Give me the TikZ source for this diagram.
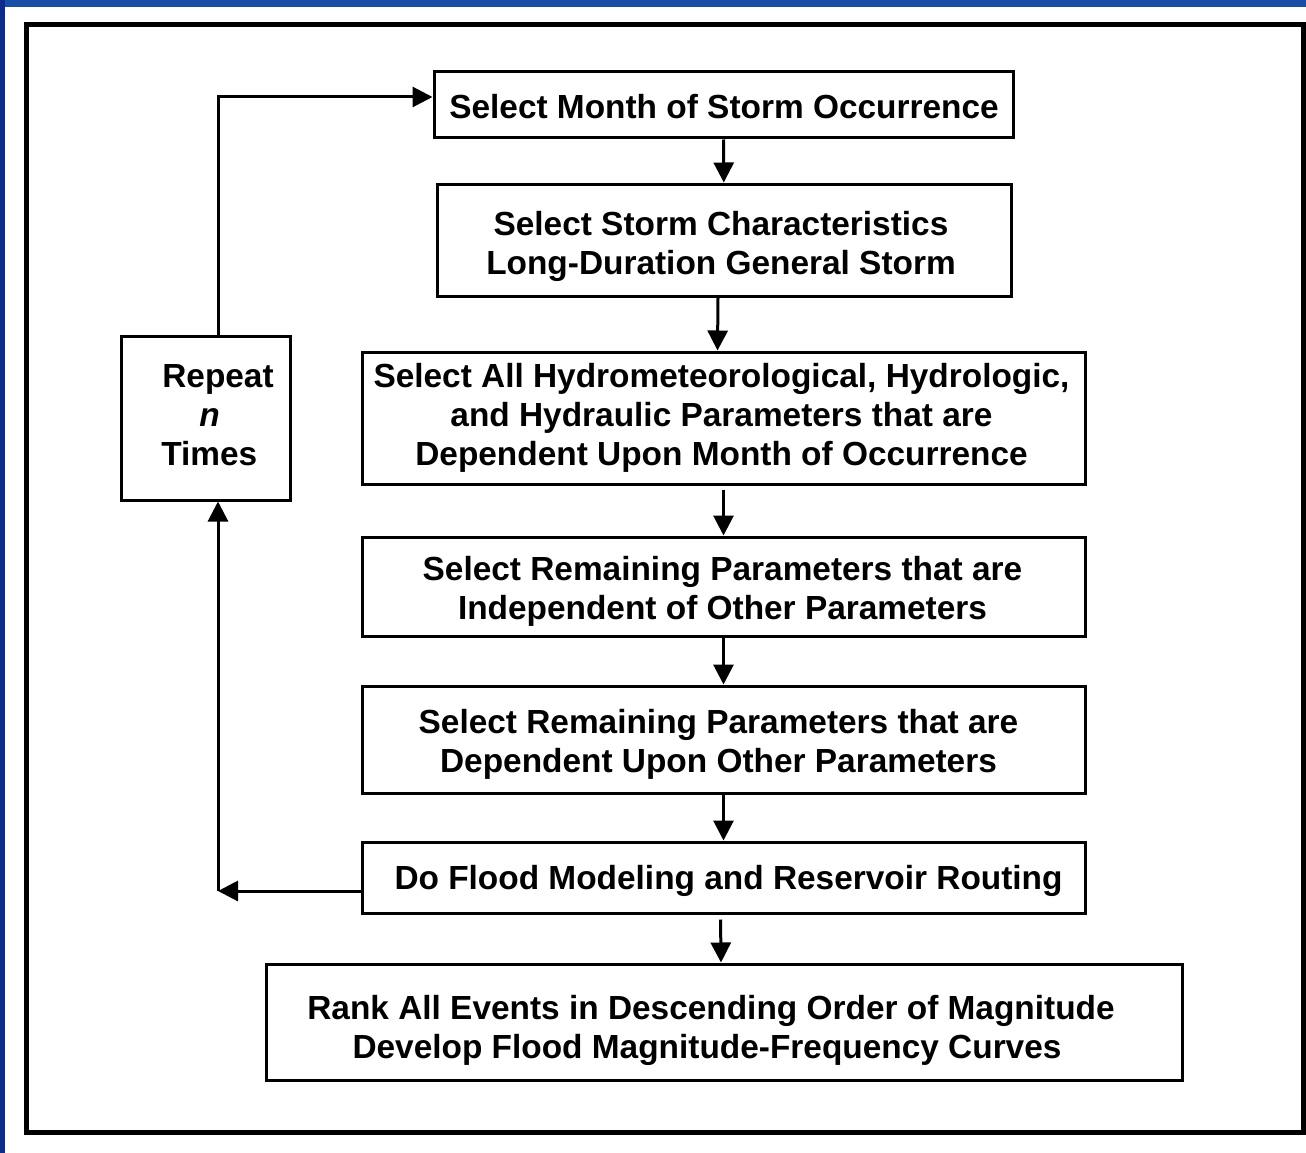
\documentclass[tikz,border=0pt]{standalone}
\usepackage{fontspec}
\setmainfont{Liberation Sans}
\usetikzlibrary{arrows.meta}
\definecolor{bluetop}{RGB}{24,78,168}
\definecolor{blueleft}{RGB}{12,44,140}
\begin{document}
\begin{tikzpicture}[x=1pt,y=-1pt,
  box/.style={draw,line width=3pt,inner sep=0pt},
  txt/.style={inner sep=0pt,align=center,
    font=\fontsize{33.4}{39}\selectfont\bfseries},
  arr/.style={line width=3pt,-{Triangle[length=20pt,width=20pt]}}]
\useasboundingbox (0,0) rectangle (1306,1153);
\fill[white] (0,0) rectangle (1306,1153);
\fill[bluetop] (0,0) rectangle (1306,7);
\fill[blueleft] (0,0) rectangle (5,1153);
\draw[line width=5pt] (26.5,24.5) rectangle (1303.5,1132.5);

\node[box,minimum width=579pt,minimum height=66pt] (b1) at (723.5,105) {};
\node[box,minimum width=574pt,minimum height=112pt] (b2) at (724,240) {};
\node[box,minimum width=723pt,minimum height=132pt] (b3) at (723.5,418) {};
\node[box,minimum width=723pt,minimum height=99pt] (b4) at (723.5,586.5) {};
\node[box,minimum width=723pt,minimum height=107pt] (b5) at (723.5,739.5) {};
\node[box,minimum width=723pt,minimum height=71pt] (b6) at (723.5,877.5) {};
\node[box,minimum width=916pt,minimum height=116pt] (b7) at (724,1022) {};
\node[box,minimum width=169pt,minimum height=164pt] (rep) at (205.5,418) {};

\node[txt] (t1) at ([xshift=0.5pt,yshift=-2pt]b1.center) {Select Month of Storm Occurrence};
\node[txt] (t2) at ([xshift=-3pt,yshift=-6pt]b2.center) {Select Storm Characteristics\\Long-Duration General Storm};
\node[txt] (t3) at ([xshift=-2pt]b3.center) {Select All Hydrometeorological, Hydrologic,\\and Hydraulic Parameters that are\\Dependent Upon Month of Occurrence};
\node[txt] (t4) at ([xshift=-1pt,yshift=-5pt]b4.center) {Select Remaining Parameters that are\\Independent of Other Parameters};
\node[txt] (t5) at ([xshift=-5pt,yshift=-5pt]b5.center) {Select Remaining Parameters that are\\Dependent Upon Other Parameters};
\node[txt] (t6) at ([xshift=5pt,yshift=-3pt]b6.center) {Do Flood Modeling and Reservoir Routing};
\node[txt] (t7) at ([xshift=-17pt,yshift=-8pt]b7.center) {Rank All Events in Descending Order of Magnitude\hspace*{-8pt}\\Develop Flood Magnitude-Frequency Curves};
\node[txt,align=left] (trep) at ([xshift=12pt,yshift=3pt]rep.center) {\hspace*{1pt}Repeat\\\hspace*{38pt}\textit{n}\\Times};

\coordinate (loopbot) at (218,891);
\coordinate (looptop) at (218,97);

\draw[arr] (b1) -- (b2);
\draw[arr] ([xshift=-6pt]b2.south) -- ([xshift=-6pt]b3.north);
\draw[arr,shorten <=4pt] (b3) -- (b4);
\draw[arr] (b4) -- (b5);
\draw[arr] (b5) -- (b6);
\draw[arr,shorten <=5pt] ([xshift=-3pt]b6.south) -- ([xshift=-3pt]b7.north);
\draw[arr] (b6.west |- loopbot) -- (loopbot);
\draw[arr] (loopbot) -- (rep.south -| loopbot);
\draw[arr] (rep.north -| loopbot) -- (looptop) -- (b1.west |- looptop);
\end{tikzpicture}
\end{document}
